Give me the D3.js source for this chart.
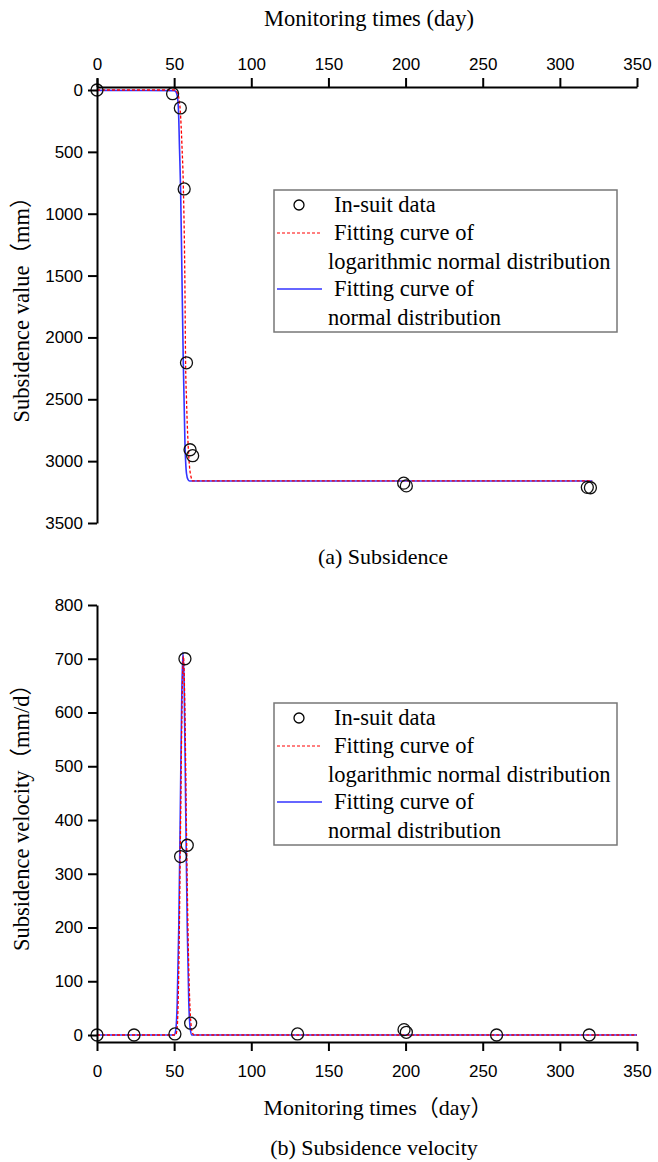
<!DOCTYPE html>
<html>
<head>
<meta charset="utf-8">
<script src="https://cdn.jsdelivr.net/npm/d3@7"></script>
<style>
  body { margin: 0; background: #fff; }
  .axis text { font-family: "Liberation Sans", Arial, sans-serif; font-size: 17px; fill: #000; }
  .axis path, .axis line { stroke: #000; stroke-width: 2px; }
  .serif { font-family: "Liberation Serif", "Times New Roman", "Noto Sans CJK SC", serif; fill: #000; }
</style>
</head>
<body>
<svg id="CHART" width="658" height="1162"></svg>
<script>
// (a) subsidence, in-situ points: [day, mm]
var subDays   = [0, 49, 54, 56.5, 58, 60.3, 62, 198.8, 200.5, 317.8, 319.8];
var subValues = [0, 30, 145, 800, 2205, 2908, 2956, 3178, 3200, 3212, 3215];

// fitted curves
var subNormDays  = [0, 50, 51, 52, 52.8, 53.5, 54.2, 55, 55.9, 57, 58, 59, 60, 321];
var subNormVals  = [3, 5, 12, 45, 160, 480, 810, 1450, 2180, 2850, 3100, 3150, 3160, 3160];
var subLogDays   = [0, 50.5, 52, 53, 54, 55, 56, 57, 57.4, 58, 59, 60, 61, 62, 321];
var subLogVals   = [0, 0, 20, 60, 170, 430, 800, 1600, 2180, 2500, 2850, 3050, 3130, 3160, 3160];

// (b) subsidence velocity, in-situ points: [day, mm/d]
var velDays   = [0, 24, 50.5, 54.2, 57, 58.5, 60.7, 130, 199, 200.5, 259, 319];
var velValues = [0, 0, 2, 332, 700, 353, 22, 2, 10, 5, 0, 0];

var velNormDays = [0, 50, 51, 52, 53, 54, 55, 55.7, 56.5, 57.5, 58.5, 59.5, 60.5, 61.5, 350];
var velNormVals = [0, 0, 8, 60, 200, 420, 640, 712, 650, 420, 200, 60, 10, 0, 0];
var velLogDays  = [0, 51, 52, 53, 54, 55, 56, 57, 58, 59, 60, 61, 62, 63, 350];
var velLogVals  = [0, 0, 15, 120, 350, 590, 705, 600, 380, 190, 70, 18, 3, 0, 0];

var xTicks    = [0, 50, 100, 150, 200, 250, 300, 350];
var subTicks  = [0, 500, 1000, 1500, 2000, 2500, 3000, 3500];
var velTicks  = [0, 100, 200, 300, 400, 500, 600, 700, 800];

var legendText = ["In-suit data", "Fitting curve of", "logarithmic normal distribution", "Fitting curve of", "normal distribution"];

var svg = d3.select("#CHART");

function zip(a, b) { return a.map(function(d, i) { return [d, b[i]]; }); }

var x = d3.scaleLinear().domain([0, 350]).range([97, 637]);
var fmt = d3.format("d");

function drawLegend(top) {
  var g = svg.append("g");
  g.append("rect")
    .attr("x", 274).attr("y", top).attr("width", 343).attr("height", 142)
    .attr("fill", "#fff").attr("stroke", "#777").attr("stroke-width", 1.5);
  var rows = [top + 15, top + 43, top + 72, top + 99, top + 128];
  var tx = [334, 334, 328, 334, 328];
  g.selectAll("text.leg").data(legendText).enter().append("text")
    .attr("class", "serif")
    .attr("x", function(d, i) { return tx[i]; })
    .attr("y", function(d, i) { return rows[i] + 7; })
    .style("font-size", "22.5px")
    .text(function(d) { return d; });
  g.append("circle").attr("cx", 299).attr("cy", rows[0]).attr("r", 5)
    .attr("fill", "none").attr("stroke", "#000").attr("stroke-width", 1.3);
  g.append("line").attr("x1", 277).attr("x2", 321).attr("y1", rows[1]).attr("y2", rows[1])
    .attr("stroke", "#f00").attr("stroke-width", 1.2).attr("stroke-dasharray", "3,2");
  g.append("line").attr("x1", 277).attr("x2", 322).attr("y1", rows[3]).attr("y2", rows[3])
    .attr("stroke", "#33f").attr("stroke-width", 1.5);
}

function drawCurves(y, normD, normV, logD, logV, ptD, ptV) {
  var line = d3.line()
    .x(function(d) { return x(d[0]); })
    .y(function(d) { return y(d[1]); })
    .curve(d3.curveMonotoneX);

  svg.append("path")
    .attr("d", line(zip(normD, normV)))
    .attr("fill", "none").attr("stroke", "#33f").attr("stroke-width", 1.6);

  svg.append("path")
    .attr("d", line(zip(logD, logV)))
    .attr("fill", "none").attr("stroke", "#f00").attr("stroke-width", 1.3)
    .attr("stroke-dasharray", "3,2");

  svg.append("g").selectAll("circle")
    .data(zip(ptD, ptV)).enter().append("circle")
    .attr("cx", function(d) { return x(d[0]); })
    .attr("cy", function(d) { return y(d[1]); })
    .attr("r", 6)
    .attr("fill", "none").attr("stroke", "#111").attr("stroke-width", 1.3);
}

// ---------- (a) subsidence ----------
var y1 = d3.scaleLinear().domain([-97, 3500]).range([78, 523]);

drawCurves(y1, subNormDays, subNormVals, subLogDays, subLogVals, subDays, subValues);

svg.append("g")
  .attr("class", "axis")
  .attr("transform", "translate(0,87)")
  .call(d3.axisTop(x).tickValues(xTicks).tickFormat(fmt).tickSize(9).tickSizeOuter(0).tickPadding(8));

svg.append("g")
  .attr("class", "axis")
  .attr("transform", "translate(97,0)")
  .call(d3.axisLeft(y1).tickValues(subTicks).tickFormat(fmt).tickSize(9).tickSizeOuter(0).tickPadding(5));

svg.append("text").attr("class", "serif")
  .attr("x", 369).attr("y", 26).attr("text-anchor", "middle")
  .style("font-size", "22.5px").text("Monitoring times (day)");

svg.append("text").attr("class", "serif")
  .attr("transform", "translate(29,304) rotate(-90)").attr("text-anchor", "middle")
  .style("font-size", "22.5px").text("Subsidence value（mm）");

svg.append("text").attr("class", "serif")
  .attr("x", 383).attr("y", 564).attr("text-anchor", "middle")
  .style("font-size", "22px").text("(a) Subsidence");

drawLegend(190);

// ---------- (b) subsidence velocity ----------
var y2 = d3.scaleLinear().domain([-13, 800]).range([1042, 605]);

drawCurves(y2, velNormDays, velNormVals, velLogDays, velLogVals, velDays, velValues);

svg.append("g")
  .attr("class", "axis")
  .attr("transform", "translate(0,1042)")
  .call(d3.axisBottom(x).tickValues(xTicks).tickFormat(fmt).tickSize(9).tickSizeOuter(0).tickPadding(14));

svg.append("g")
  .attr("class", "axis")
  .attr("transform", "translate(97,0)")
  .call(d3.axisLeft(y2).tickValues(velTicks).tickFormat(fmt).tickSize(9).tickSizeOuter(0).tickPadding(5));

svg.append("text").attr("class", "serif")
  .attr("x", 378).attr("y", 1115).attr("text-anchor", "middle")
  .style("font-size", "22px").text("Monitoring times（day）");

svg.append("text").attr("class", "serif")
  .attr("transform", "translate(29,812) rotate(-90)").attr("text-anchor", "middle")
  .style("font-size", "22.5px").text("Subsidence velocity（mm/d）");

svg.append("text").attr("class", "serif")
  .attr("x", 374).attr("y", 1155).attr("text-anchor", "middle")
  .style("font-size", "22px").text("(b) Subsidence velocity");

drawLegend(703);
</script>
</body>
</html>
